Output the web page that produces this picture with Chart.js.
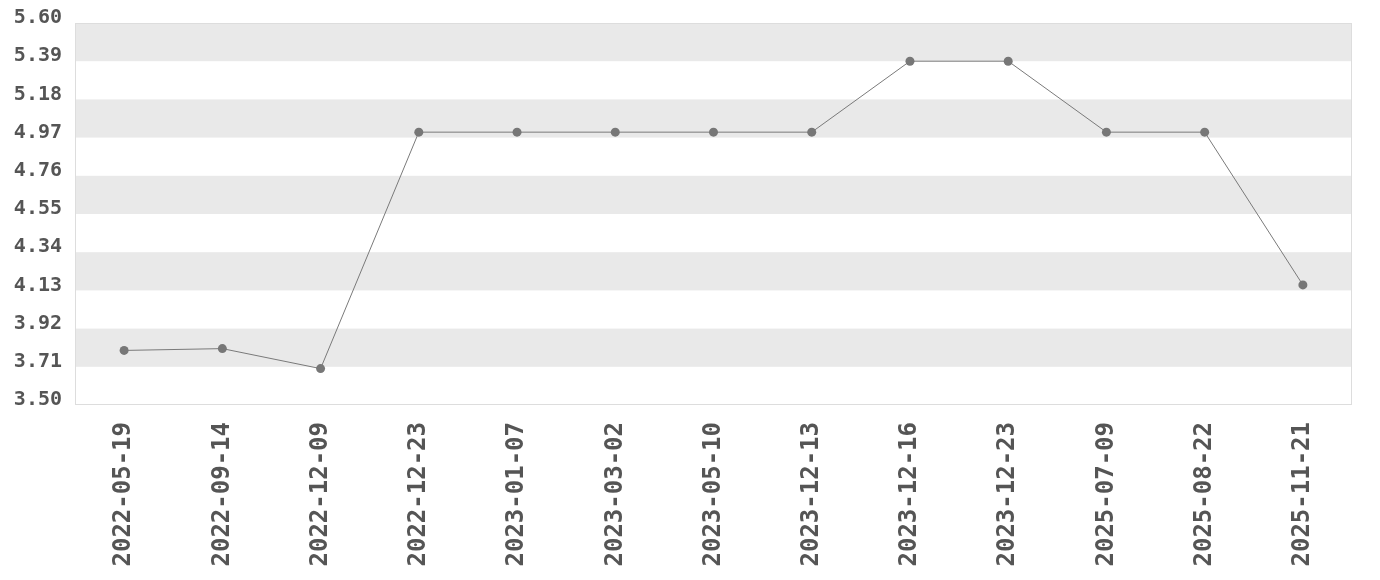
<!DOCTYPE html>
<html>
<head>
<meta charset="utf-8">
<script src="https://cdn.jsdelivr.net/npm/chart.js@4"></script>
<style>
  html, body { margin: 0; padding: 0; background: #fff; }
  #wrap { width: 1380px; height: 580px; }
</style>
</head>
<body>
<div id="wrap"><canvas id="lineChart"></canvas></div>
<script>
// Data
const dates = ['2022-05-19','2022-09-14','2022-12-09','2022-12-23','2023-01-07','2023-03-02',
  '2023-05-10','2023-12-13','2023-12-16','2023-12-23','2025-07-09','2025-08-22','2025-11-21'];
const values = [3.80, 3.81, 3.70, 5.00, 5.00, 5.00, 5.00, 5.00, 5.39, 5.39, 5.00, 5.00, 4.16];
const yTicks = [3.50, 3.71, 3.92, 4.13, 4.34, 4.55, 4.76, 4.97, 5.18, 5.39, 5.60];

const FONT = '"DejaVu Sans Mono", monospace';

// grey bands between ticks + light frame round the plot
const bands = {
  id: 'bands',
  beforeDatasetsDraw(chart) {
    const { ctx, chartArea: a, scales: { y } } = chart;
    ctx.save();
    ctx.fillStyle = '#e9e9e9';
    for (let i = yTicks.length - 1; i > 0; i -= 2) {
      const top = y.getPixelForValue(yTicks[i]);
      const bot = y.getPixelForValue(yTicks[i - 1]);
      ctx.fillRect(a.left, top, a.right - a.left, bot - top);
    }
    ctx.strokeStyle = '#dddddd';
    ctx.lineWidth = 1;
    ctx.strokeRect(a.left + 0.5, a.top + 0.5, a.right - a.left - 1, a.bottom - a.top - 1);
    ctx.restore();
  }
};

new Chart(document.getElementById('lineChart'), {
  type: 'line',
  data: {
    labels: dates,
    datasets: [{
      data: values,
      borderColor: '#7a7a7a',
      borderWidth: 1,
      backgroundColor: '#777777',
      pointRadius: 4.5,
      pointBorderWidth: 0,
      tension: 0
    }]
  },
  options: {
    responsive: true,
    maintainAspectRatio: false,
    animation: false,
    layout: { padding: { top: 23, right: 28, left: 0, bottom: 0 } },
    plugins: { legend: { display: false }, tooltip: { enabled: false } },
    scales: {
      x: {
        offset: true,
        grid: { display: false },
        border: { display: false },
        afterFit(s) { s.height = 175; },
        ticks: {
          maxRotation: 90, minRotation: 90, autoSkip: false, padding: 9,
          color: '#555555',
          font: { family: FONT, size: 24, weight: 'bold' }
        }
      },
      y: {
        min: 3.5, max: 5.6,
        grid: { display: false },
        border: { display: false },
        afterFit(s) { s.width = 75; },
        afterBuildTicks(s) { s.ticks = yTicks.map(v => ({ value: v })); },
        ticks: {
          padding: 5, labelOffset: -5,
          color: '#555555',
          font: { family: FONT, size: 20, weight: 'bold' },
          callback: v => v.toFixed(2)
        }
      }
    }
  },
  plugins: [bands]
});
</script>
</body>
</html>
